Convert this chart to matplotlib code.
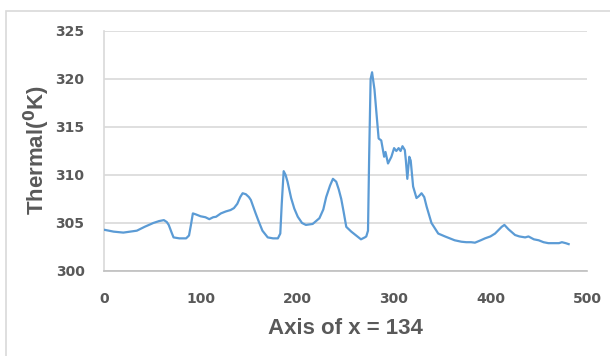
import matplotlib
matplotlib.use("Agg")
import matplotlib.pyplot as plt
from matplotlib.patches import Rectangle

# Thermal profile along the line x = 134
position = [0, 5, 10, 20, 34, 42, 51, 57, 62, 65, 67, 70, 72, 78, 85, 88, 90, 92,
            95, 100, 105, 109, 113, 116, 121, 126, 131, 134.5, 138, 141, 143.5,
            146.8, 150, 152, 157, 160, 164, 169.5, 175, 180, 182.5, 184, 186, 188,
            190, 193.7, 197, 200.6, 205, 209, 216, 223, 227, 230, 234, 237, 240.4,
            243, 245.6, 248, 250.8, 256, 261, 266, 270, 271.5, 273.3, 274.5, 276,
            277.5, 280, 282, 284.3, 287, 290, 291.4, 294, 297.5, 300.3, 302.6, 305,
            307, 309, 311.4, 312.5, 314, 316, 317.5, 320, 323.5, 326, 328.7, 331.5,
            334, 339, 346, 353, 358, 363, 370, 375, 380, 384, 390, 394.4, 400,
            404.8, 411.7, 414.5, 418.7, 425.5, 430, 436, 439.4, 445, 450, 455, 460,
            466, 471, 474, 478, 481]
thermal = [304.3, 304.2, 304.1, 304.0, 304.2, 304.6, 305.0, 305.2, 305.3, 305.1,
           304.8, 304.0, 303.5, 303.4, 303.4, 303.7, 304.8, 306.0, 305.9, 305.7,
           305.6, 305.4, 305.6, 305.65, 306.0, 306.2, 306.35, 306.55, 307.0, 307.7,
           308.1, 308.0, 307.7, 307.4, 306.0, 305.2, 304.2, 303.5, 303.4, 303.4,
           303.9, 307.0, 310.4, 310.0, 309.3, 307.6, 306.5, 305.65, 305.0, 304.8,
           304.9, 305.5, 306.4, 307.7, 308.9, 309.6, 309.3, 308.5, 307.5, 306.2,
           304.6, 304.1, 303.7, 303.3, 303.5, 303.6, 304.2, 312.0, 320.0, 320.7,
           318.9, 316.5, 313.8, 313.6, 311.9, 312.4, 311.2, 311.9, 312.8, 312.5,
           312.8, 312.5, 313.0, 312.6, 311.5, 309.6, 311.9, 311.5, 308.8, 307.6,
           307.8, 308.1, 307.7, 306.7, 305.0, 303.9, 303.6, 303.4, 303.2, 303.05,
           303.0, 303.0, 302.95, 303.2, 303.4, 303.6, 303.9, 304.6, 304.8, 304.35,
           303.75, 303.6, 303.5, 303.6, 303.3, 303.2, 303.0, 302.9, 302.9, 302.9,
           303.0, 302.9, 302.8]

x_ticks = [0, 100, 200, 300, 400, 500]
y_ticks = [300, 305, 310, 315, 320, 325]

plt.rcParams['font.family'] = ['Liberation Sans', 'DejaVu Sans']

fig = plt.figure(figsize=(6.10, 3.56), dpi=100)
fig.patch.set_facecolor('white')

# light outer chart frame
fig.patches.append(Rectangle((6 / 610, -0.05), 1.1, 1 - 11 / 356 + 0.05,
                             transform=fig.transFigure, fill=False,
                             edgecolor='#d9d9d9', linewidth=1.2, zorder=0))

ax = fig.add_axes([104 / 610, 1 - 271 / 356, (587 - 104) / 610, (271 - 31) / 356])
ax.plot(position, thermal, color='#5b9bd5', linewidth=1.6, zorder=3)

ax.set_xlim(0, 500)
ax.set_ylim(300, 325)
ax.set_xticks(x_ticks)
ax.set_yticks(y_ticks)
ax.grid(axis='y', color='#d9d9d9', linewidth=1.2)
ax.set_axisbelow(True)

for side in ('top', 'right'):
    ax.spines[side].set_visible(False)
ax.spines['left'].set_color('#d9d9d9')
ax.spines['left'].set_linewidth(1.2)
ax.spines['bottom'].set_color('#bfbfbf')
ax.spines['bottom'].set_linewidth(1.2)

ax.tick_params(axis='both', length=0, labelcolor='#595959')
ax.tick_params(axis='y', pad=14)
ax.tick_params(axis='x', pad=15)
for lbl in ax.get_xticklabels() + ax.get_yticklabels():
    lbl.set_fontfamily('DejaVu Sans')
    lbl.set_fontweight('bold')
    lbl.set_fontsize(10)

ax.set_xlabel('Axis of x = 134', fontsize=16, fontweight='bold', color='#595959')
ax.xaxis.set_label_coords(0.499, -0.195)
ax.set_ylabel(r'Thermal($\mathbf{^{0}}$K)', fontsize=16, fontweight='bold',
              color='#595959')
ax.yaxis.set_label_coords(-0.108, 0.504)

fig.savefig('out.png', dpi=100)
